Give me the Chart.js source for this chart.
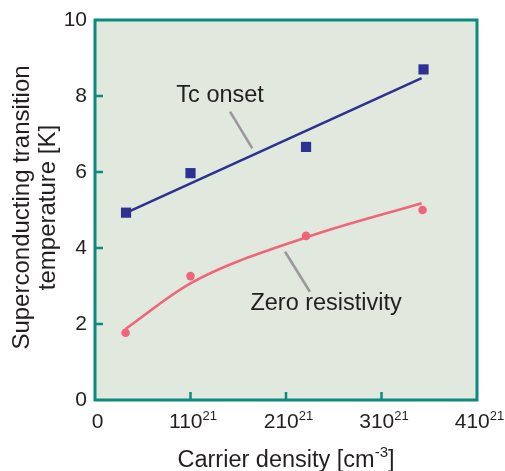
<!DOCTYPE html>
<html><head><meta charset="utf-8">
<script src="https://cdn.jsdelivr.net/npm/chart.js@4.4.1/dist/chart.umd.min.js"></script>
<style>html,body{margin:0;padding:0;background:#fff}#wrap{width:505px;height:471px}</style>
</head><body><div id="wrap"><canvas id="c" width="505" height="471"></canvas></div>
<script>
// ---- data ----
const carrierTc = [0.325, 1.0, 2.21, 3.44];
const tcOnset = [4.93, 5.97, 6.66, 8.70];
const carrierZero = [0.32, 1.0, 2.21, 3.43];
const zeroRes = [1.77, 3.26, 4.32, 5.00];
const tcFitX = [0.33, 3.42];
const tcFitY = [4.93, 8.47];
const zeroFitX = [0.32, 1.0, 2.2, 3.42];
const zeroFitY = [1.87, 3.07, 4.27, 5.18];
const xTickBase = ['0', '110', '210', '310', '410'];
const xTickExp = ['', '21', '21', '21', '21'];
const yTickLabels = ['0', '2', '4', '6', '8', '10'];
const tcLeaderX = [1.414, 1.647];
const tcLeaderY = [7.59, 6.62];
const zeroLeaderX = [1.99, 2.25];
const zeroLeaderY = [3.90, 2.85];
const labelTexts = ['Tc onset', 'Zero resistivity'];
const labelX = [1.31, 2.42];
const labelY = [8.0, 2.55];

const FONT = "'Liberation Sans', Arial, sans-serif";
const TEAL = '#0b8a7f';
const BLUE = '#2e3192';
const PINK = '#f0657a';
const GREY = '#9a9a9a';
const TXT = '#231f20';

const pts = (xs, ys) => xs.map((x, i) => ({x, y: ys[i]}));

const framePlugin = {
  id: 'frame',
  beforeDraw(chart) {
    const {ctx, chartArea: a} = chart;
    ctx.save();
    ctx.fillStyle = '#ffffff';
    ctx.fillRect(0, 0, chart.width, chart.height);
    ctx.fillStyle = '#e1e8dd';
    ctx.fillRect(a.left, a.top, a.right - a.left, a.bottom - a.top);
    ctx.restore();
  },
  beforeDatasetsDraw(chart) {
    const {ctx, chartArea: a, scales} = chart;
    ctx.save();
    ctx.strokeStyle = TEAL;
    ctx.lineWidth = 3;
    ctx.strokeRect(a.left, a.top, a.right - a.left, a.bottom - a.top);
    ctx.lineWidth = 2.5;
    ctx.beginPath();
    scales.x.ticks.forEach(t => {
      const px = scales.x.getPixelForValue(t.value);
      if (px <= a.left + 2 || px >= a.right - 2) return;
      ctx.moveTo(px, a.bottom); ctx.lineTo(px, a.bottom - 8);
    });
    scales.y.ticks.forEach(t => {
      const py = scales.y.getPixelForValue(t.value);
      if (py <= a.top + 2 || py >= a.bottom - 2) return;
      ctx.moveTo(a.left, py); ctx.lineTo(a.left + 8, py);
    });
    ctx.stroke();
    ctx.restore();
  },
  afterDraw(chart) {
    const {ctx, scales, chartArea: a} = chart;
    ctx.save();
    ctx.fillStyle = TXT;
    // x tick labels with superscript exponent
    ctx.textBaseline = 'alphabetic';
    ctx.textAlign = 'left';
    scales.x.ticks.forEach((t, i) => {
      const px = scales.x.getPixelForValue(t.value) + 2.5;
      ctx.font = '21px ' + FONT;
      const wb = ctx.measureText(xTickBase[i]).width;
      ctx.font = '13px ' + FONT;
      const we = xTickExp[i] ? ctx.measureText(xTickExp[i]).width : 0;
      const x0 = px - (wb + we) / 2;
      ctx.font = '21px ' + FONT;
      ctx.fillText(xTickBase[i], x0, a.bottom + 27.7);
      if (xTickExp[i]) {
        ctx.font = '13px ' + FONT;
        ctx.fillText(xTickExp[i], x0 + wb, a.bottom + 19.5);
      }
    });
    // annotation labels
    ctx.font = '23.5px ' + FONT;
    ctx.textAlign = 'center';
    ctx.textBaseline = 'middle';
    labelTexts.forEach((t, i) => {
      ctx.fillText(t, scales.x.getPixelForValue(labelX[i]), scales.y.getPixelForValue(labelY[i]));
    });
    // y title (two lines)
    ctx.textBaseline = 'alphabetic';
    ctx.font = '24px ' + FONT;
    ctx.save();
    ctx.translate(28.5, 207.5);
    ctx.rotate(-Math.PI / 2);
    ctx.fillText('Superconducting transition', 0, 0);
    ctx.restore();
    ctx.save();
    ctx.translate(55, 207.5);
    ctx.rotate(-Math.PI / 2);
    ctx.fillText('temperature [K]', 0, 0);
    ctx.restore();
    // x title with superscript
    const main = 'Carrier density [cm';
    const sup = '-3';
    const end = ']';
    ctx.textAlign = 'left';
    ctx.font = '23.5px ' + FONT;
    const w1 = ctx.measureText(main).width;
    const w3 = ctx.measureText(end).width;
    ctx.font = '15px ' + FONT;
    const w2 = ctx.measureText(sup).width;
    const total = w1 + w2 + w3;
    const x0 = (a.left + a.right) / 2 - total / 2;
    const base = 466.5;
    ctx.font = '23.5px ' + FONT;
    ctx.fillText(main, x0, base);
    ctx.font = '15px ' + FONT;
    ctx.fillText(sup, x0 + w1, base - 9.5);
    ctx.font = '23.5px ' + FONT;
    ctx.fillText(end, x0 + w1 + w2, base);
    ctx.restore();
  }
};

new Chart(document.getElementById('c'), {
  type: 'scatter',
  data: {
    datasets: [
      {label: 'Tc onset', data: pts(carrierTc, tcOnset), pointStyle: 'rect', pointRadius: 7.2,
        backgroundColor: BLUE, borderColor: BLUE, borderWidth: 0, order: 0},
      {label: 'Zero resistivity', data: pts(carrierZero, zeroRes), pointStyle: 'circle', pointRadius: 4.3,
        backgroundColor: PINK, borderColor: PINK, borderWidth: 0, order: 0},
      {label: 'Tc fit', data: pts(tcFitX, tcFitY), showLine: true, pointRadius: 0,
        borderColor: BLUE, borderWidth: 2.6, order: 1},
      {label: 'Zero fit', data: pts(zeroFitX, zeroFitY), showLine: true, pointRadius: 0,
        borderColor: PINK, borderWidth: 2.6, cubicInterpolationMode: 'monotone', order: 1},
      {label: 'lead1', data: pts(tcLeaderX, tcLeaderY), showLine: true, pointRadius: 0,
        borderColor: GREY, borderWidth: 2.6, order: 2},
      {label: 'lead2', data: pts(zeroLeaderX, zeroLeaderY), showLine: true, pointRadius: 0,
        borderColor: GREY, borderWidth: 2.6, order: 2}
    ]
  },
  options: {
    responsive: false,
    animation: false,
    devicePixelRatio: 1,
    layout: {padding: {left: 0, top: 20, right: 28, bottom: 0}},
    plugins: {legend: {display: false}, tooltip: {enabled: false}},
    scales: {
      x: {
        type: 'linear', min: 0, max: 4,
        grid: {display: false}, border: {display: false},
        afterFit(s) { s.height = 71; s.paddingLeft = 0; s.paddingRight = 0; },
        ticks: {stepSize: 1, autoSkip: false, maxRotation: 0, display: false}
      },
      y: {
        type: 'linear', min: 0, max: 10,
        grid: {display: false}, border: {display: false},
        afterFit(s) { s.width = 95; s.paddingTop = 0; s.paddingBottom = 0; },
        ticks: {stepSize: 2, padding: 0, color: TXT, font: {family: FONT, size: 21},
          callback: (v, i) => yTickLabels[i]}
      }
    }
  },
  plugins: [framePlugin]
});
</script>
</body></html>
